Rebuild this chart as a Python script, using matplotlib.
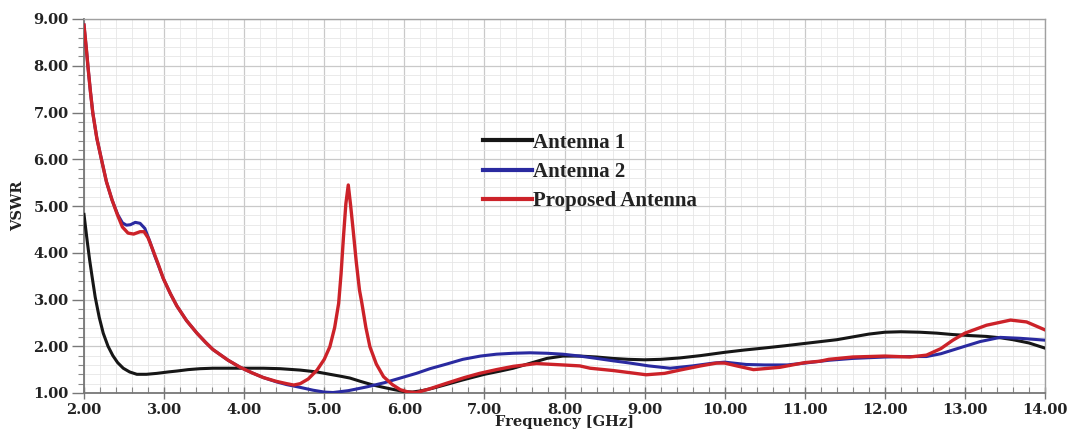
import matplotlib
matplotlib.use("Agg")
import matplotlib.pyplot as plt
from matplotlib.ticker import MultipleLocator, FormatStrFormatter

# ---------------- data ----------------
ant1_x = [2.00, 2.04, 2.07, 2.10, 2.14, 2.19, 2.24, 2.30, 2.36, 2.42, 2.49, 2.57, 2.66,
          2.78, 2.91, 3.05, 3.16, 3.30, 3.45, 3.61, 3.80, 3.95, 4.24, 4.45, 4.70, 4.91,
          5.07, 5.20, 5.32, 5.45, 5.61, 5.74, 5.88, 6.00, 6.10, 6.22, 6.35, 6.50, 6.73,
          7.00, 7.20, 7.36, 7.58, 7.78, 7.98, 8.19, 8.40, 8.60, 8.80, 9.00, 9.20, 9.44,
          9.70, 10.00, 10.25, 10.48, 10.75, 11.00, 11.20, 11.40, 11.60, 11.80, 12.00,
          12.20, 12.44, 12.65, 12.85, 13.05, 13.27, 13.45, 13.60, 13.80, 14.00]
ant1_y = [4.82, 4.25, 3.85, 3.50, 3.05, 2.62, 2.28, 2.00, 1.80, 1.65, 1.53, 1.45, 1.40,
          1.40, 1.42, 1.45, 1.47, 1.50, 1.52, 1.53, 1.53, 1.53, 1.53, 1.52, 1.49, 1.45,
          1.40, 1.36, 1.32, 1.25, 1.17, 1.12, 1.07, 1.03, 1.02, 1.05, 1.10, 1.17, 1.28,
          1.40, 1.47, 1.53, 1.64, 1.74, 1.79, 1.79, 1.77, 1.74, 1.72, 1.71, 1.72, 1.75,
          1.80, 1.87, 1.92, 1.96, 2.01, 2.06, 2.10, 2.14, 2.20, 2.26, 2.30, 2.31, 2.30,
          2.28, 2.25, 2.23, 2.21, 2.18, 2.14, 2.07, 1.96]

ant2_x = [2.00, 2.03, 2.05, 2.08, 2.11, 2.16, 2.22, 2.28, 2.35, 2.42, 2.48, 2.53, 2.58,
          2.64, 2.70, 2.76, 2.82, 2.88, 2.94, 2.99, 3.08, 3.16, 3.28, 3.41, 3.52, 3.61,
          3.80, 3.95, 4.10, 4.24, 4.40, 4.53, 4.70, 4.86, 5.00, 5.11, 5.30, 5.53, 5.75,
          5.95, 6.15, 6.32, 6.53, 6.73, 6.95, 7.15, 7.36, 7.57, 7.78, 7.98, 8.19, 8.40,
          8.60, 8.82, 9.05, 9.32, 9.60, 9.86, 10.00, 10.27, 10.50, 10.78, 11.00, 11.30,
          11.60, 12.00, 12.30, 12.52, 12.70, 12.85, 13.00, 13.19, 13.44, 13.69, 14.00]
ant2_y = [8.87, 8.35, 7.97, 7.45, 6.99, 6.45, 5.98, 5.52, 5.13, 4.82, 4.64, 4.59, 4.60,
          4.65, 4.63, 4.52, 4.25, 3.95, 3.68, 3.45, 3.12, 2.86, 2.55, 2.28, 2.08, 1.93,
          1.70, 1.55, 1.43, 1.33, 1.24, 1.18, 1.12, 1.06, 1.02, 1.01, 1.05, 1.13, 1.22,
          1.32, 1.42, 1.52, 1.62, 1.72, 1.79, 1.83, 1.85, 1.86, 1.85, 1.83, 1.79, 1.74,
          1.69, 1.64, 1.58, 1.53, 1.58, 1.64, 1.66, 1.61, 1.60, 1.60, 1.64, 1.70, 1.74,
          1.77, 1.78, 1.78, 1.84, 1.92, 2.00, 2.10, 2.19, 2.17, 2.13]

prop_x = [2.00, 2.03, 2.05, 2.08, 2.11, 2.16, 2.22, 2.28, 2.35, 2.42, 2.48, 2.55, 2.62,
          2.70, 2.75, 2.80, 2.86, 2.93, 2.99, 3.08, 3.16, 3.28, 3.41, 3.52, 3.61, 3.80,
          3.95, 4.10, 4.24, 4.40, 4.53, 4.62, 4.70, 4.80, 4.91, 5.00, 5.07, 5.13, 5.18,
          5.21, 5.24, 5.27, 5.30, 5.33, 5.36, 5.40, 5.44, 5.47, 5.52, 5.57, 5.65, 5.74,
          5.85, 5.95, 6.05, 6.15, 6.30, 6.53, 6.75, 6.94, 7.15, 7.36, 7.65, 7.98, 8.19,
          8.32, 8.61, 9.02, 9.25, 9.44, 9.70, 9.90, 10.00, 10.15, 10.36, 10.69, 11.00,
          11.19, 11.30, 11.60, 12.00, 12.31, 12.52, 12.70, 12.85, 13.00, 13.27, 13.57,
          13.77, 14.00]
prop_y = [8.87, 8.35, 7.97, 7.45, 6.99, 6.45, 5.98, 5.52, 5.13, 4.80, 4.55, 4.42, 4.40,
          4.45, 4.45, 4.32, 4.06, 3.74, 3.45, 3.12, 2.86, 2.55, 2.28, 2.08, 1.93, 1.70,
          1.55, 1.43, 1.33, 1.25, 1.20, 1.17, 1.20, 1.30, 1.49, 1.72, 1.99, 2.40, 2.92,
          3.55, 4.34, 5.05, 5.45, 5.00, 4.50, 3.80, 3.20, 2.92, 2.40, 1.99, 1.62, 1.35,
          1.18, 1.07, 1.02, 1.01, 1.08, 1.21, 1.33, 1.42, 1.50, 1.57, 1.63, 1.60, 1.58,
          1.53, 1.48, 1.39, 1.42, 1.49, 1.58, 1.64, 1.64, 1.58, 1.50, 1.55, 1.65, 1.68,
          1.72, 1.77, 1.79, 1.77, 1.81, 1.95, 2.13, 2.28, 2.45, 2.56, 2.52, 2.35]

series_labels = ["Antenna 1", "Antenna 2", "Proposed Antenna"]
x_ticks = [2, 3, 4, 5, 6, 7, 8, 9, 10, 11, 12, 13, 14]
y_ticks = [1, 2, 3, 4, 5, 6, 7, 8, 9]

# ---------------- figure ----------------
fig = plt.figure(figsize=(10.67, 4.32), dpi=100)
ax = fig.add_axes([84 / 1067, 1 - 393 / 432, (1045 - 84) / 1067, (393 - 19) / 432])

tick_font = dict(family="DejaVu Serif", weight="bold", size=10.5)
text_col = "#222222"

ax.plot(ant1_x, ant1_y, color="#161616", lw=2.2, label=series_labels[0], zorder=3)
ax.plot(ant2_x, ant2_y, color="#2a2aa0", lw=2.2, label=series_labels[1], zorder=4)
ax.plot(prop_x, prop_y, color="#cc2229", lw=2.4, label=series_labels[2], zorder=5)

ax.set_xlim(2, 14)
ax.set_ylim(1, 9)
ax.set_xticks(x_ticks)
ax.set_yticks(y_ticks)
ax.xaxis.set_minor_locator(MultipleLocator(0.2))
ax.yaxis.set_minor_locator(MultipleLocator(0.2))
ax.xaxis.set_major_formatter(FormatStrFormatter("%.2f"))
ax.yaxis.set_major_formatter(FormatStrFormatter("%.2f"))

ax.grid(which="major", color="#c9c9c9", lw=0.9, zorder=0)
ax.grid(which="minor", color="#e6e6e6", lw=0.6, zorder=0)
ax.set_axisbelow(True)

for lab in ax.get_xticklabels() + ax.get_yticklabels():
    lab.set_fontfamily(tick_font["family"])
    lab.set_fontweight(tick_font["weight"])
    lab.set_fontsize(tick_font["size"])
    lab.set_color(text_col)

ax.tick_params(axis="y", which="major", direction="out", length=9, width=1.0,
               color="#777777", pad=2)
ax.tick_params(axis="y", which="minor", direction="out", length=4, width=0.8,
               color="#888888")
ax.tick_params(axis="x", which="major", direction="inout", length=8, width=1.0,
               color="#777777", pad=3)
ax.tick_params(axis="x", which="minor", direction="in", length=4, width=0.8,
               color="#888888")

for s in ["left", "bottom"]:
    ax.spines[s].set_color("#777777")
    ax.spines[s].set_linewidth(1.3)
for s in ["top", "right"]:
    ax.spines[s].set_color("#a0a0a0")
    ax.spines[s].set_linewidth(1.0)

ax.set_ylabel("VSWR", fontfamily="DejaVu Serif", fontweight="bold", fontsize=10.5,
              color=text_col, labelpad=6)
ax.set_xlabel("Frequency [GHz]", fontfamily="DejaVu Serif", fontweight="bold",
              fontsize=10.5, color=text_col, labelpad=-1)

leg = ax.legend(loc="center left", bbox_to_anchor=(483 / 1067, 1 - 172 / 432),
                bbox_transform=fig.transFigure, frameon=False, borderpad=0,
                borderaxespad=0, handlelength=2.35, handletextpad=0.05,
                labelspacing=0.45,
                prop=dict(family="Liberation Serif", weight="bold", size=15))
for t in leg.get_texts():
    t.set_color(text_col)
for h in leg.get_lines():
    h.set_linewidth(3.0)

fig.savefig("out.png", dpi=100)
